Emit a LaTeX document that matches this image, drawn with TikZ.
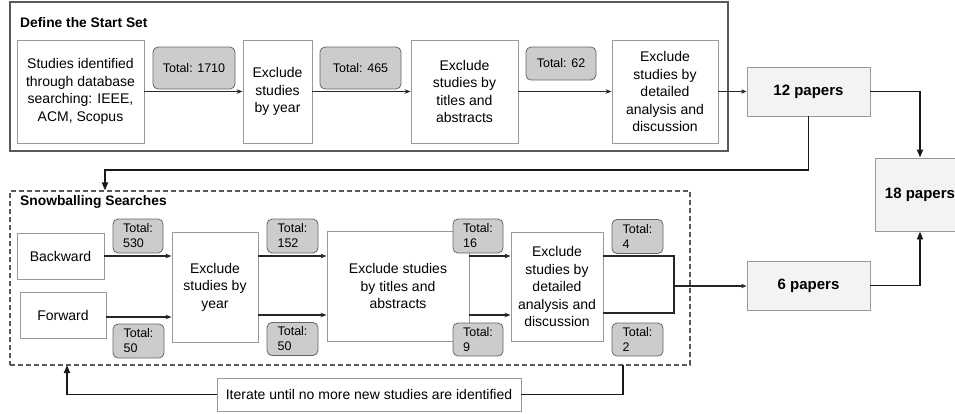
\documentclass[tikz,border=0pt]{standalone}
\usepackage{fontspec}
\setmainfont{Liberation Sans}
\usetikzlibrary{arrows.meta}
\definecolor{boxgray}{HTML}{999999}
\definecolor{totalfill}{HTML}{CCCCCC}
\definecolor{totalline}{HTML}{666666}
\definecolor{paperfill}{HTML}{F3F3F3}
\definecolor{framegray}{HTML}{595959}

\begin{document}
\begin{tikzpicture}[x=1pt,y=-1pt,
  every node/.style={font=\fontsize{14}{17.5}\selectfont,inner sep=0pt,align=center},
  stepbox/.style={draw=boxgray,fill=white,line width=0.9pt},
  total/.style={draw=totalline,fill=totalfill,rounded corners=5pt,line width=0.8pt,font=\fontsize{12.5}{15}\selectfont},
  paper/.style={draw=boxgray,fill=paperfill,line width=0.9pt,font=\bfseries\fontsize{15}{18}\selectfont},
  frametitle/.style={anchor=west,font=\bfseries\fontsize{13.8}{16}\selectfont},
  flow/.style={-{Stealth[length=6pt,width=4.5pt]},line width=1.1pt,draw=black!85},
  into/.style={-{Triangle[open,length=5pt,width=4pt]},line width=1.1pt,draw=black!85},
  main/.style={-{Triangle[length=8pt,width=6pt]},line width=1.8pt,draw=black!90}]

  \useasboundingbox (0,0) rectangle (955,413);

  \node[draw=framegray,line width=1.2pt,minimum width=718pt,minimum height=149pt] (start) at (369,76.5) {};
  \node[draw=framegray,line width=1.1pt,dash pattern=on 5pt off 3pt,minimum width=680pt,minimum height=174pt] (snow) at (350,278) {};
  \node[frametitle] (starttitle) at (20,23) {Define the Start Set};
  \node[frametitle] (snowtitle) at (20,202) {Snowballing Searches};

  \node[stepbox,minimum width=127pt,minimum height=103pt] (s1) at (80.5,91.5) {Studies identified\\through database\\searching: IEEE,\\ACM, Scopus};
  \node[stepbox,minimum width=69pt,minimum height=103pt] (s2) at (277.5,91.5) {Exclude\\studies\\by year};
  \node[stepbox,minimum width=107pt,minimum height=103pt] (s3) at (464.5,91.5) {Exclude\\studies by\\titles and\\abstracts};
  \node[stepbox,minimum width=106pt,minimum height=103pt] (s4) at (665,91.5) {Exclude\\studies by\\detailed\\analysis and\\discussion};
  \node[total,minimum width=82pt,minimum height=42pt] (t1) at (194,68) {Total: 1710};
  \node[total,minimum width=81pt,minimum height=42pt] (t2) at (360.5,68) {Total: 465};
  \node[total,minimum width=70pt,minimum height=33pt] (t3) at (561,63.5) {Total: 62};

  \node[paper,minimum width=123pt,minimum height=49pt] (p12) at (808.5,91.5) {12 papers};
  \node[paper,minimum width=90pt,minimum height=73pt] (p18) at (920,194.5) {18 papers};
  \node[paper,minimum width=123pt,minimum height=49pt] (p6) at (808.5,285.5) {6 papers};

  \node[stepbox,minimum width=87pt,minimum height=46pt] (back) at (60.5,256) {Backward};
  \node[stepbox,minimum width=86pt,minimum height=46pt] (fwd) at (63,315) {Forward};
  \node[stepbox,minimum width=86pt,minimum height=110pt] (b1) at (215,287) {Exclude\\studies by\\year};
  \node[stepbox,minimum width=142pt,minimum height=110pt] (b2) at (398,286) {Exclude studies\\by titles and\\abstracts};
  \node[stepbox,minimum width=92pt,minimum height=109pt] (b3) at (557,286.5) {Exclude\\studies by\\detailed\\analysis and\\discussion};
  \node[total,align=left,minimum width=50pt,minimum height=34pt] (u1) at (138,236) {Total:\\530};
  \node[total,align=left,minimum width=51pt,minimum height=34pt] (u2) at (138.5,341) {Total:\\50};
  \node[total,align=left,minimum width=51pt,minimum height=34pt] (u3) at (292.5,236) {Total:\\152};
  \node[total,align=left,minimum width=51pt,minimum height=33pt] (u4) at (292.5,339) {Total:\\50};
  \node[total,align=left,minimum width=50pt,minimum height=34pt] (u5) at (478,236) {Total:\\16};
  \node[total,align=left,minimum width=50pt,minimum height=33pt] (u6) at (478,339.5) {Total:\\9};
  \node[total,align=left,minimum width=51pt,minimum height=34pt] (u7) at (637.5,236.5) {Total:\\4};
  \node[total,align=left,minimum width=51pt,minimum height=33pt] (u8) at (637.5,339.5) {Total:\\2};

  \node[stepbox,minimum width=304pt,minimum height=33pt] (iter) at (369,394.5) {Iterate until no more new studies are identified};

  \coordinate (join) at (674,286);
  \coordinate (drop) at (105,170);
  \coordinate (loopout) at (623,365);
  \coordinate (loopin) at (67,365);

  \foreach \from/\to in {s1/s2,s2/s3,s3/s4}
    \draw[flow] (\from) -- (\to);
  \draw[into] (s4) -- (p12);

  \draw[flow] (back.east) -- (back.east -| b1.west);
  \draw[flow] (fwd.east |- 0,317) -- (b1.west |- 0,317);
  \foreach \from/\to in {b1/b2,b2/b3} {
    \draw[flow] (\from.east |- back.east) -- (\to.west |- back.east);
    \draw[flow] (\from.east |- 0,315) -- (\to.west |- 0,315);
  }
  \draw[line width=1.1pt,draw=black!85] (b3.east |- back.east) -| (join);
  \draw[line width=1.1pt,draw=black!85] (b3.east |- 0,313) -| (join);
  \draw[into] (join) -- (join -| p6.west);

  \draw[main] (p12.east) -| (p18.north);
  \draw[main] (p6.east) -| (p18.south);
  \draw[main] (p12.south) |- (drop) -- (drop |- snow.north);
  \draw[main,-] (loopout) |- (iter.east);
  \draw[main] (iter.west) -| (loopin);
\end{tikzpicture}
\end{document}
